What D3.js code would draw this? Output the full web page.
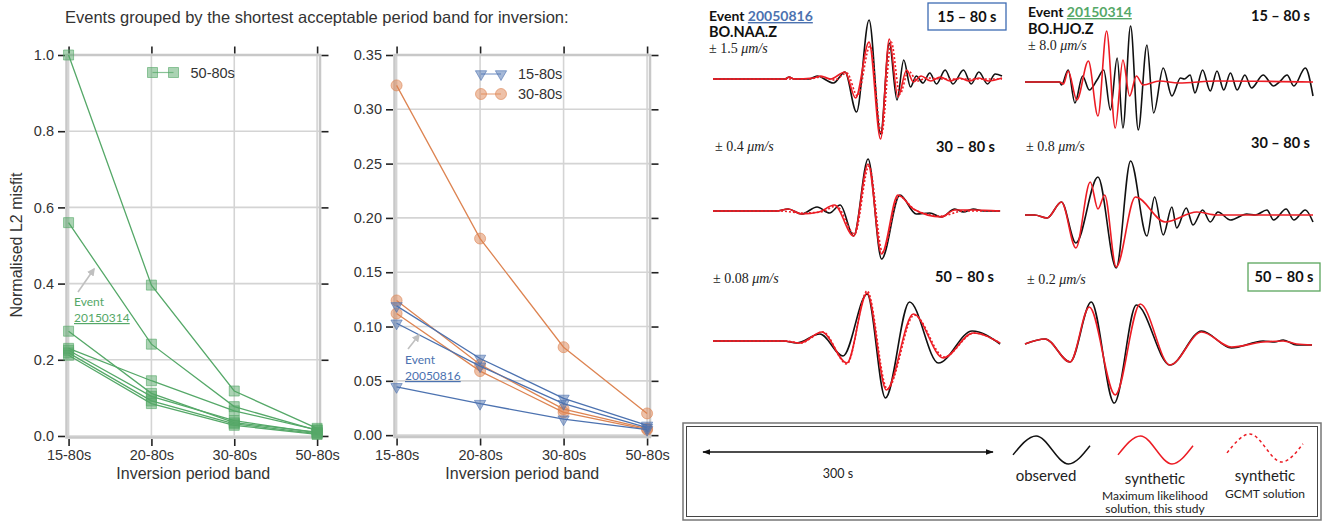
<!DOCTYPE html>
<html lang="en">
<head>
<meta charset="UTF-8">
<title>misfit by period band</title>
<script src="https://cdn.jsdelivr.net/npm/d3@7"></script>
<style>
  body { margin: 0; background: #fff; }
  svg { display: block; }
</style>
</head>
<body>
<script type="text/javascript">

// ---- data: misfit per inversion period band ----
let bands = ["15-80s", "20-80s", "30-80s", "50-80s"];

let misfit5080 = [
    [1.0, 0.396, 0.118, 0.02],
    [0.56, 0.241, 0.077, 0.015],
    [0.275, 0.112, 0.035, 0.01],
    [0.23, 0.145, 0.066, 0.016],
    [0.225, 0.104, 0.04, 0.008],
    [0.218, 0.092, 0.032, 0.006],
    [0.212, 0.085, 0.028, 0.004]
];
let misfit1580 = [
    [0.119, 0.0706, 0.0338, 0.009],
    [0.103, 0.0635, 0.029, 0.007],
    [0.0445, 0.029, 0.0147, 0.005]
];
let misfit3080 = [
    [0.322, 0.181, 0.081, 0.02],
    [0.124, 0.065, 0.024, 0.006],
    [0.112, 0.059, 0.021, 0.005]
];
let yTicks1 = [0.0, 0.2, 0.4, 0.6, 0.8, 1.0];
let yTicks2 = [0.0, 0.05, 0.10, 0.15, 0.20, 0.25, 0.30, 0.35];

// ---- data: waveforms [time s, amplitude] ----
let naa15Obs = [[0,0],[75,0],[79,2],[84,0],[100,0],[108,3],[125,-4],[137,7],[149,-33],[162,59],[174,-55],[183,36],[191,-21],[198,19],[205,-8],[211,3],[218,-4],[225,6],[232,-5],[241,9],[249,-5],[260,9],[268,-5],[276,7],[285,-5],[293,5],[300,3]];
let naa15Syn = [[0,0],[75,0],[79,2],[84,0],[104,1],[112,3],[122,0],[137,7],[148,-19],[162,37],[174,-60],[183,40],[192,-18],[201,9],[208,-3],[216,3],[226,-2],[236,2],[246,-2],[256,1],[266,-2],[276,1],[286,-2],[300,1]];
let naa15Gcmt = [[0,0],[100,0],[112,2],[126,-1],[139,6],[150,-17],[163,33],[175,-55],[185,37],[194,-15],[203,8],[212,-2],[222,1],[240,0],[300,0]];

let hjo15Obs = [[0,0],[36,0],[38,-3],[45,12],[52,-21],[60,6],[67,-8],[75,2],[82,12],[89,-28],[96,24],[102,-46],[110,56],[118,-48],[127,37],[134,-31],[144,14],[153,-14],[162,4],[166,3],[172,7],[177,-11],[185,12],[193,-9],[200,11],[207,-8],[214,9],[221,-8],[229,7],[236,-6],[248,7],[259,-4],[265,0],[273,7],[280,-4],[292,14],[300,-14]];
let hjo15Syn = [[0,0],[36,0],[40,-2],[45,11],[54,-18],[66,21],[76,-34],[85,51],[94,-46],[102,22],[109,-14],[116,6],[123,-3],[140,1],[160,-1],[200,1],[300,0]];

let naa30Obs = [[0,0],[66,0],[78,2],[92,-3],[108,4],[121,-2],[132,6],[146,-25],[161,52],[175,-48],[194,16],[211,-3],[225,-2],[237,-6],[251,2],[260,-1],[270,2],[281,0],[298,0]];
let naa30Syn = [[0,0],[66,0],[78,2],[92,-3],[110,-1],[126,6],[146,-25],[161,47],[175,-43],[192,16],[208,2],[237,-6],[251,1],[270,1],[298,0]];
let naa30Gcmt = [[0,0],[70,0],[92,-2],[112,-1],[128,5],[147,-23],[162,45],[176,-41],[193,15],[210,1],[237,-5],[260,0],[298,0]];

let hjo30Obs = [[0,0],[10,0],[23,-3],[38,13],[53,-28],[76,38],[95,-53],[110,54],[127,-21],[135,18],[144,-20],[153,8],[158,-13],[168,7],[175,-10],[185,5],[193,-7],[201,3],[214,-5],[231,1],[240,0],[252,5],[259,-5],[272,6],[280,-5],[292,5],[300,-7]];
let hjo30Syn = [[0,0],[10,0],[23,-3],[38,13],[53,-33],[68,33],[76,6],[83,20],[95,-52],[115,18],[146,-7],[179,3],[200,0],[300,0]];

let naa50Obs = [[0,0],[73,0],[87,-2],[111,7],[135,-15],[160,47],[179,-57],[204,39],[234,-22],[269,10],[298,-3]];
let naa50Syn = [[0,0],[73,0],[90,-2],[113,9],[139,-22],[160,48],[180,-49],[208,27],[239,-17],[270,8],[298,-2]];
let naa50Gcmt = [[0,0],[75,0],[91,-2],[114,9],[139,-23],[160,50],[181,-48],[209,26],[240,-16],[271,8],[298,-2]];

let hjo50Obs = [[0,-1],[21,4],[47,-19],[69,41],[93,-60],[116,38],[151,-22],[184,12],[215,-5],[248,2],[260,1],[269,3],[283,-2],[299,-2]];
let hjo50Syn = [[0,-1],[21,4],[47,-19],[67,36],[94,-52],[120,39],[151,-22],[184,11],[215,-4],[248,1],[269,2],[283,-1],[299,-2]];

let legendWave = [[0,-0.35],[0.3,1],[0.72,-1],[1,0.3]];

// ---- colours ----
let green = "#55a868", blue = "#4c72b0", orange = "#dd8452", red = "#ec1c24";

let width = 1328, height = 522;
let svg = d3.select("body").append("svg")
    .attr("width", width)
    .attr("height", height);

let axisFont = "Liberation Sans, Arial, sans-serif";
let calFont = "Lato, Open Sans, sans-serif";

svg.append("text")
    .attr("x", 65).attr("y", 23)
    .attr("font-family", axisFont).attr("font-size", 16.5)
    .attr("fill", "#333")
    .text("Events grouped by the shortest acceptable period band for inversion:");

// ---- misfit panels ----
function misfitPanel(opt) {
    let g = svg.append("g");
    let x = d3.scaleLinear().domain([-0.025, 3.035]).range(opt.xr);
    let y = d3.scaleLinear().domain(opt.yd).range(opt.yr);
    let [x0, x1] = opt.xr, [y0, y1] = opt.yr;

    // grid
    g.selectAll(".gx").data(bands).join("line")
        .attr("x1", (d, i) => x(i)).attr("x2", (d, i) => x(i))
        .attr("y1", y0).attr("y2", y1)
        .attr("stroke", "#d4d4d4").attr("stroke-width", 1.6);
    g.selectAll(".gy").data(opt.ticks).join("line")
        .attr("x1", x0).attr("x2", x1)
        .attr("y1", d => y(d)).attr("y2", d => y(d))
        .attr("stroke", "#d4d4d4").attr("stroke-width", 1.6);

    // spines
    g.append("rect")
        .attr("x", x0).attr("y", y1).attr("width", x1 - x0).attr("height", y0 - y1)
        .attr("fill", "none").attr("stroke", "#c8c8c8").attr("stroke-width", 2.5);

    // axes (ticks outside on all four sides)
    let fmt = opt.fmt;
    let left = d3.axisLeft(y).tickValues(opt.ticks).tickFormat(fmt).tickSize(7).tickPadding(4);
    let right = d3.axisRight(y).tickValues(opt.ticks).tickFormat("").tickSize(7);
    let bottom = d3.axisBottom(x).tickValues([0, 1, 2, 3]).tickFormat(i => bands[i]).tickSize(7).tickPadding(4);
    let top = d3.axisTop(x).tickValues([0, 1, 2, 3]).tickFormat("").tickSize(7);
    [[left, `translate(${x0 - 1.5},0)`], [right, `translate(${x1 + 1.5},0)`],
     [bottom, `translate(0,${y0 + 1.5})`], [top, `translate(0,${y1 - 1.5})`]].forEach(([ax, tr]) => {
        let a = g.append("g").attr("transform", tr).call(ax);
        a.select(".domain").remove();
        a.selectAll("line").attr("stroke", "#222").attr("stroke-width", 1.6);
        a.selectAll("text").attr("font-family", axisFont).attr("font-size", 14.5).attr("fill", "#333");
    });

    g.append("text")
        .attr("x", (x0 + x1) / 2).attr("y", 479)
        .attr("text-anchor", "middle")
        .attr("font-family", axisFont).attr("font-size", 16).attr("fill", "#333")
        .text("Inversion period band");

    let line = d3.line().x((d, i) => x(i)).y(d => y(d));
    opt.series.forEach(s => {
        s.data.forEach(row => {
            g.append("path").attr("d", line(row))
                .attr("fill", "none").attr("stroke", s.color).attr("stroke-width", 1.3);
        });
        s.data.forEach(row => {
            row.forEach((v, i) => drawMarker(g, s.marker, x(i), y(v), s.color));
        });
    });
    return {g, x, y};
}

function drawMarker(g, kind, cx, cy, color) {
    let sym = kind === "square" ? d3.symbolSquare : kind === "circle" ? d3.symbolCircle : d3.symbolTriangle;
    let size = kind === "square" ? 100 : kind === "circle" ? 95 : 55;
    let rot = kind === "tri" ? 180 : 0;
    g.append("path")
        .attr("d", d3.symbol().type(sym).size(size)())
        .attr("transform", `translate(${cx},${cy}) rotate(${rot})`)
        .attr("fill", color).attr("fill-opacity", 0.5)
        .attr("stroke", color).attr("stroke-opacity", 0.6).attr("stroke-width", 1);
}

function legendRow(g, x1, x2, y, kind, color, label) {
    g.append("line").attr("x1", x1).attr("x2", x2).attr("y1", y).attr("y2", y)
        .attr("stroke", color).attr("stroke-width", 1.2).attr("stroke-opacity", 0.7);
    drawMarker(g, kind, x1, y, color);
    drawMarker(g, kind, x2, y, color);
    g.append("text").attr("x", x2 + 17).attr("y", y + 5)
        .attr("font-family", axisFont).attr("font-size", 14.5).attr("fill", "#333")
        .text(label);
}

let p1 = misfitPanel({
    xr: [66.5, 320], yr: [437.5, 55], yd: [-0.004, 1.0],
    ticks: yTicks1, fmt: d3.format(".1f"),
    series: [{data: misfit5080, color: green, marker: "square"}]
});
legendRow(p1.g, 152.5, 173.5, 72.5, "square", green, "50-80s");

let p2 = misfitPanel({
    xr: [394.5, 650], yr: [437, 55], yd: [-0.0017, 0.35],
    ticks: yTicks2, fmt: d3.format(".2f"),
    series: [{data: misfit3080, color: orange, marker: "circle"},
             {data: misfit1580, color: blue, marker: "tri"}]
});
legendRow(p2.g, 481, 501, 74, "tri", blue, "15-80s");
legendRow(p2.g, 481, 501, 94, "circle", orange, "30-80s");

svg.append("text")
    .attr("transform", "translate(22,245) rotate(-90)")
    .attr("text-anchor", "middle")
    .attr("font-family", axisFont).attr("font-size", 16).attr("fill", "#333")
    .text("Normalised L2 misfit");

// annotations
svg.append("defs").append("marker")
    .attr("id", "ah").attr("viewBox", "0 0 10 10").attr("refX", 8).attr("refY", 5)
    .attr("markerWidth", 5).attr("markerHeight", 5).attr("orient", "auto")
    .append("path").attr("d", "M0,0 L10,5 L0,10 z").attr("fill", "#c0c0c0");

function eventNote(xa, ya, xb, yb, tx, ty, color, id) {
    svg.append("line").attr("x1", xa).attr("y1", ya).attr("x2", xb).attr("y2", yb)
        .attr("stroke", "#c0c0c0").attr("stroke-width", 1.6).attr("marker-end", "url(#ah)");
    svg.append("text").attr("x", tx).attr("y", ty)
        .attr("font-family", calFont).attr("font-size", 12).attr("fill", color).text("Event");
    svg.append("text").attr("x", tx).attr("y", ty + 16)
        .attr("font-family", calFont).attr("font-size", 12).attr("fill", color)
        .attr("text-decoration", "underline").text(id);
}
eventNote(78, 292, 94, 269, 74, 306, green, "20150314");
eventNote(408, 349, 419, 335, 405, 364, blue, "20050816");

// ---- waveform panels ----
let tScaleL = d3.scaleLinear().domain([0, 300]).range([713, 1002]);
let tScaleR = d3.scaleLinear().domain([0, 300]).range([1025, 1313]);

let panels = [
    {t: tScaleL, base: 79, obs: naa15Obs, syn: naa15Syn, gcmt: naa15Gcmt},
    {t: tScaleR, base: 82, obs: hjo15Obs, syn: hjo15Syn},
    {t: tScaleL, base: 211, obs: naa30Obs, syn: naa30Syn, gcmt: naa30Gcmt},
    {t: tScaleR, base: 215, obs: hjo30Obs, syn: hjo30Syn},
    {t: tScaleL, base: 341, obs: naa50Obs, syn: naa50Syn, gcmt: naa50Gcmt},
    {t: tScaleR, base: 343, obs: hjo50Obs, syn: hjo50Syn}
];

panels.forEach(p => {
    let a = d3.scaleLinear().domain([-60, 60]).range([p.base + 60, p.base - 60]);
    let wave = d3.line().x(d => p.t(d[0])).y(d => a(d[1])).curve(d3.curveMonotoneX);
    svg.append("path").attr("d", wave(p.obs))
        .attr("fill", "none").attr("stroke", "#111").attr("stroke-width", 1.6);
    if (p.gcmt) {
        svg.append("path").attr("d", wave(p.gcmt))
            .attr("fill", "none").attr("stroke", red).attr("stroke-width", 1.6)
            .attr("stroke-dasharray", "2,2");
    }
    svg.append("path").attr("d", wave(p.syn))
        .attr("fill", "none").attr("stroke", red).attr("stroke-width", 1.6);
});

function bold(x, y, txt, anchor) {
    return svg.append("text").attr("x", x).attr("y", y)
        .attr("text-anchor", anchor || "start")
        .attr("font-family", calFont).attr("font-weight", "bold").attr("font-size", 14.5)
        .attr("fill", "#111").text(txt);
}
function ampLabel(x, y, num) {
    let t = svg.append("text").attr("x", x).attr("y", y)
        .attr("font-family", "Liberation Serif, DejaVu Serif, serif").attr("font-size", 14).attr("fill", "#222");
    t.append("tspan").text("\u00b1 " + num + " ");
    t.append("tspan").attr("font-style", "italic").text("\u03bcm/s");
}
function eventHead(x, y, id, color) {
    let t = svg.append("text").attr("x", x).attr("y", y)
        .attr("font-family", calFont).attr("font-weight", "bold").attr("font-size", 14).attr("fill", "#111");
    t.append("tspan").text("Event ");
    t.append("tspan").attr("fill", color).attr("text-decoration", "underline").text(id);
}

eventHead(709, 21, "20050816", blue);
bold(709, 37, "BO.NAA.Z");
ampLabel(709, 53, "1.5");
svg.append("rect").attr("x", 928).attr("y", 3).attr("width", 78).attr("height", 27)
    .attr("fill", "#fff").attr("stroke", "#3d6bb3").attr("stroke-width", 1.3);
bold(967, 22, "15 \u2013 80 s", "middle");

eventHead(1028, 17, "20150314", green);
bold(1028, 34, "BO.HJO.Z");
ampLabel(1028, 50, "8.0");
bold(1310, 21, "15 \u2013 80 s", "end");

ampLabel(715, 151, "0.4");
bold(995, 152, "30 \u2013 80 s", "end");
ampLabel(1026, 151, "0.8");
bold(1310, 148, "30 \u2013 80 s", "end");

ampLabel(713, 283, "0.08");
bold(994, 282, "50 \u2013 80 s", "end");
ampLabel(1027, 284, "0.2");
svg.append("rect").attr("x", 1248).attr("y", 263).attr("width", 72).attr("height", 28)
    .attr("fill", "#fff").attr("stroke", "#5aa55c").attr("stroke-width", 1.3);
bold(1284, 282, "50 \u2013 80 s", "middle");

// ---- legend box ----
svg.append("rect").attr("x", 683).attr("y", 423).attr("width", 638).attr("height", 97)
    .attr("fill", "none").attr("stroke", "#777").attr("stroke-width", 1.5);
svg.append("rect").attr("x", 686.5).attr("y", 426.5).attr("width", 631).attr("height", 90)
    .attr("fill", "none").attr("stroke", "#444").attr("stroke-width", 1);

let defs = svg.select("defs");
defs.append("marker")
    .attr("id", "ab").attr("viewBox", "0 0 10 10").attr("refX", 9).attr("refY", 5)
    .attr("markerWidth", 8).attr("markerHeight", 6).attr("orient", "auto-start-reverse")
    .append("path").attr("d", "M0,1.5 L10,5 L0,8.5 z").attr("fill", "#111");
svg.append("line").attr("x1", tScaleL(0) - 10).attr("x2", tScaleL(300) - 9)
    .attr("y1", 452).attr("y2", 452)
    .attr("stroke", "#111").attr("stroke-width", 1.3)
    .attr("marker-start", "url(#ab)").attr("marker-end", "url(#ab)");
svg.append("text").attr("x", 838).attr("y", 478).attr("text-anchor", "middle")
    .attr("font-family", calFont).attr("font-size", 12.5).attr("fill", "#222").text("300 s");

let lx = d3.scaleLinear().domain([0, 1]);
let ly = d3.scaleLinear().domain([-1, 1]);
[[1013, 1090, 450, "#111", null], [1118, 1193, 450, red, null], [1227, 1303, 448, red, "3,3"]].forEach(([a, b, c, col, dash]) => {
    lx.range([a, b]); ly.range([c + 14, c - 14]);
    let w = d3.line().x(d => lx(d[0])).y(d => ly(d[1])).curve(d3.curveMonotoneX);
    svg.append("path").attr("d", w(legendWave))
        .attr("fill", "none").attr("stroke", col).attr("stroke-width", 1.5)
        .attr("stroke-dasharray", dash);
});

function legText(x, y, size, txt) {
    svg.append("text").attr("x", x).attr("y", y).attr("text-anchor", "middle")
        .attr("font-family", calFont).attr("font-size", size).attr("fill", "#222").text(txt);
}
legText(1046, 481, 15, "observed");
legText(1155, 484, 15, "synthetic");
legText(1155, 500, 12, "Maximum likelihood");
legText(1155, 513, 12, "solution, this study");
legText(1265, 481, 15, "synthetic");
legText(1265, 498, 12, "GCMT solution");

</script>
</body>
</html>
